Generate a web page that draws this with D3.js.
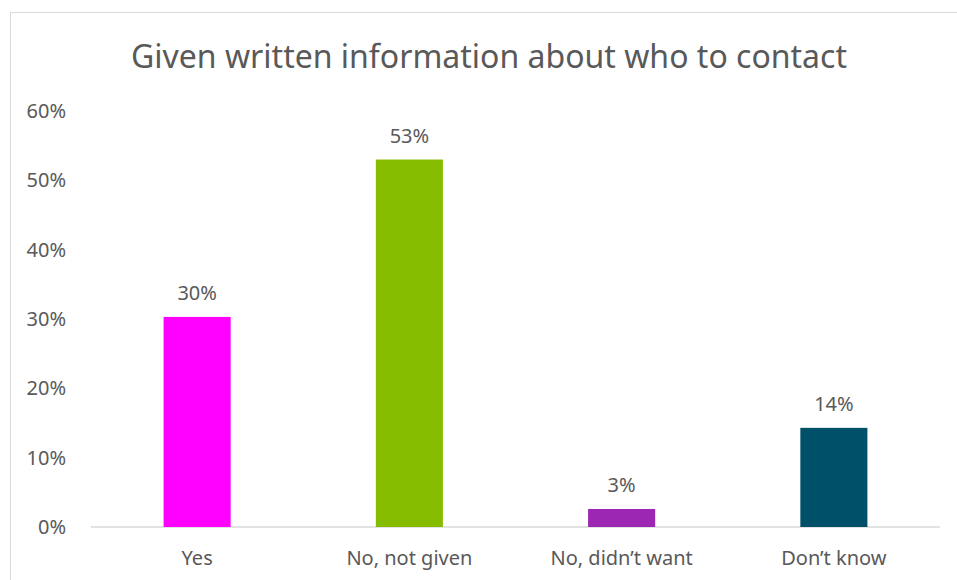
<!DOCTYPE html>
<html lang="en">
  <head>
    <meta charset="UTF-8" />
    <title>Given written information about who to contact</title>
    <style>
      body {
        margin: 0;
        background-color: #fff;
        font-family: "Noto Sans", "Open Sans", sans-serif;
      }
      svg {
        display: block;
      }
      .tick text,
      .cat-label,
      .value-label {
        fill: #595959;
      }
    </style>
  </head>
  <body>
    <svg id="chart"></svg>

    <script src="https://d3js.org/d3.v7.min.js"></script>
    <script>
      const width = 957;
      const height = 580;

      const categories = ["Yes", "No, not given", "No, didn\u2019t want", "Don\u2019t know"];
      const values = [0.303, 0.53, 0.026, 0.143];
      const labels = ["30%", "53%", "3%", "14%"];
      const colors = ["#ff00ff", "#85bc00", "#9b27b3", "#00506a"];
      const yTicks = [0, 0.1, 0.2, 0.3, 0.4, 0.5, 0.6];

      const margin = { top: 111, right: 17, bottom: 53, left: 91 };

      const svg = d3
        .select("#chart")
        .attr("width", width)
        .attr("height", height);

      // chart frame (runs off the right/bottom edges like the original)
      svg
        .append("rect")
        .attr("x", 10.5)
        .attr("y", 12.5)
        .attr("width", width + 20)
        .attr("height", height + 20)
        .attr("fill", "none")
        .attr("stroke", "#d9d9d9");

      svg
        .append("text")
        .attr("x", 489)
        .attr("y", 68)
        .attr("text-anchor", "middle")
        .attr("font-size", 32)
        .attr("fill", "#595959")
        .text("Given written information about who to contact");

      const x = d3
        .scaleBand()
        .domain(categories)
        .range([margin.left, width - margin.right])
        .padding(0);

      const y = d3
        .scaleLinear()
        .domain([0, 0.6])
        .range([height - margin.bottom, margin.top]);

      const barW = x.bandwidth() * 0.316;

      // y axis labels only
      const yAxis = svg
        .append("g")
        .attr("transform", `translate(${margin.left - 22},0)`)
        .call(
          d3.axisLeft(y).tickValues(yTicks).tickFormat(d3.format(".0%")).tickSize(0)
        );
      yAxis.select(".domain").remove();
      yAxis.selectAll("text").attr("font-size", 20).attr("font-family", "Noto Sans");

      // baseline
      svg
        .append("line")
        .attr("x1", margin.left)
        .attr("x2", width - margin.right)
        .attr("y1", y(0))
        .attr("y2", y(0))
        .attr("stroke", "#d9d9d9")
        .attr("stroke-width", 1.5);

      svg
        .selectAll(".bar")
        .data(categories)
        .join("rect")
        .attr("class", "bar")
        .attr("x", (d) => x(d) + (x.bandwidth() - barW) / 2)
        .attr("y", (d, i) => y(values[i]))
        .attr("width", barW)
        .attr("height", (d, i) => y(0) - y(values[i]))
        .attr("fill", (d, i) => colors[i]);

      svg
        .selectAll(".value-label")
        .data(categories)
        .join("text")
        .attr("class", "value-label")
        .attr("x", (d) => x(d) + x.bandwidth() / 2)
        .attr("y", (d, i) => y(values[i]) - 17)
        .attr("text-anchor", "middle")
        .attr("font-size", 20)
        .text((d, i) => labels[i]);

      svg
        .selectAll(".cat-label")
        .data(categories)
        .join("text")
        .attr("class", "cat-label")
        .attr("x", (d) => x(d) + x.bandwidth() / 2)
        .attr("y", y(0) + 38)
        .attr("text-anchor", "middle")
        .attr("font-size", 20)
        .text((d) => d);
    </script>
  </body>
</html>
